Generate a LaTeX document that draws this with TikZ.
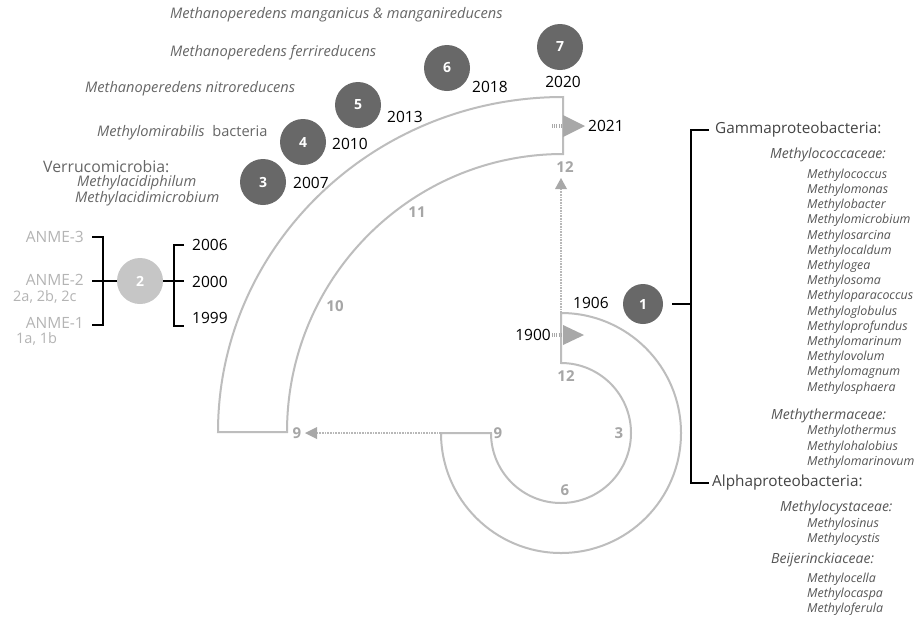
\documentclass[tikz,border=0pt]{standalone}
\usepackage{fontspec}
\setmainfont{Open Sans}
\definecolor{arcgray}{HTML}{BDBDBD}
\definecolor{dotgray}{HTML}{B8B8B8}
\definecolor{trigray}{HTML}{A8A8A8}
\definecolor{numgray}{HTML}{A6A6A6}
\definecolor{circdark}{HTML}{686868}
\definecolor{circlight}{HTML}{C6C6C6}
\definecolor{spgray}{HTML}{666666}
\definecolor{anmegray}{HTML}{B4B4B4}
\definecolor{gengray}{HTML}{555555}
\definecolor{hdgray}{HTML}{444444}
\tikzset{
  arcline/.style={draw=arcgray, line width=2pt, line join=miter},
  dotline/.style={draw=dotgray, line width=2.8pt, dash pattern=on 0.8pt off 0.8pt},
  hatch/.style={draw=trigray, line width=4pt, dash pattern=on 1pt off 1.2pt},
  tri/.style={fill=trigray, draw=none},
  darkc/.style={circle, fill=circdark, minimum size=46pt, inner sep=0pt, text=white,
    font=\bfseries\fontsize{14}{14}\selectfont},
  lightc/.style={darkc, fill=circlight},
  year/.style={inner sep=0pt, text=black, font=\fontsize{15.5}{16}\selectfont},
  clock/.style={inner sep=0pt, text=numgray, font=\bfseries\fontsize{15}{15}\selectfont},
  species/.style={inner sep=0pt, anchor=west, text=spgray, font=\itshape\fontsize{14.6}{15}\selectfont},
  genus/.style={inner sep=0pt, anchor=west, text=gengray, font=\itshape\fontsize{12.4}{13}\selectfont},
  family/.style={inner sep=0pt, anchor=west, text=gengray, font=\itshape\fontsize{14}{14}\selectfont},
  phylum/.style={inner sep=0pt, anchor=west, text=hdgray, font=\fontsize{15.3}{16}\selectfont},
  anme/.style={inner sep=0pt, anchor=east, text=anmegray, font=\fontsize{15.5}{16}\selectfont},
  anmesub/.style={inner sep=0pt, anchor=west, text=anmegray, font=\fontsize{14.5}{15}\selectfont},
  brk/.style={draw=black, line width=2pt}
}
\begin{document}
\begin{tikzpicture}[x=1pt,y=-1pt]
\useasboundingbox[fill=white] (0,0) rectangle (917,619);

% ---- big quarter band (9 -> 12) ----
\coordinate (bigOutL) at (218,432);
\coordinate (bigOutT) at (563,97);
\coordinate (bigInT) at (563,154);
\coordinate (bigInL) at (287,432);
\draw[arcline] (bigOutL) arc[start angle=180, end angle=270, x radius=345, y radius=335]
  -- (bigInT) arc[start angle=270, end angle=180, x radius=276, y radius=278] -- cycle;

% ---- small three-quarter band (12 -> 9) ----
\coordinate (smOutT) at (561,313);
\coordinate (smOutL) at (441,433);
\coordinate (smInL) at (491,433);
\coordinate (smInT) at (561,363);
\draw[arcline] (smOutT) arc[start angle=-90, end angle=180, radius=120]
  -- (smInL) arc[start angle=180, end angle=-90, radius=70] -- cycle;

% ---- dotted connectors ----
\coordinate (vtip) at (561,178);
\coordinate (vbase) at (561,189);
\draw[dotline] (smOutT) -- (vbase);
\fill[tri] (vtip) -- (555,189) -- (567,189) -- cycle;
\coordinate (htip) at (305,433);
\coordinate (hbase) at (317,433);
\draw[dotline] (smOutL) -- (hbase);
\fill[tri] (htip) -- (317,427) -- (317,439) -- cycle;

% ---- entry / exit arrows ----
\coordinate (inA) at (552,335);
\coordinate (inB) at (563,335);
\draw[hatch] (inA) -- (inB);
\fill[tri] (563,325) -- (584,335) -- (563,345) -- cycle;
\coordinate (outA) at (552,126);
\coordinate (outB) at (563,126);
\draw[hatch] (outA) -- (outB);
\fill[tri] (563,115) -- (585,126) -- (563,137) -- cycle;

% ---- clock numbers ----
\node[clock] (n12a) at (565,167) {12};
\node[clock] (n11) at (417,212) {11};
\node[clock] (n10) at (335,306) {10};
\node[clock] (n9a) at (297,433) {9};
\node[clock] (n9b) at (498,433) {9};
\node[clock] (n12b) at (566,376) {12};
\node[clock] (n3) at (619,433) {3};
\node[clock] (n6) at (565,490) {6};

% ---- circles ----
\node[darkc, minimum size=40pt] (c1) at (643,304) {1};
\node[lightc] (c2) at (140,281) {2};
\node[darkc] (c3) at (263,182) {3};
\node[darkc] (c4) at (303,142) {4};
\node[darkc] (c5) at (358,105) {5};
\node[darkc] (c6) at (447,68) {6};
\node[darkc] (c7) at (560,47) {7};

% ---- years ----
\node[year, anchor=west] (y2007) at (293,183) {2007};
\node[year, anchor=west] (y2010) at (332,144) {2010};
\node[year, anchor=west] (y2013) at (387,117) {2013};
\node[year, anchor=west] (y2018) at (472,87) {2018};
\node[year] (y2020) at (563,82) {2020};
\node[year, anchor=west] (y2021) at (588,126) {2021};
\node[year, anchor=west] (y1906) at (573,303) {1906};
\node[year, anchor=east] (y1900) at (551,335) {1900};
\node[year, anchor=west] (y2006) at (192,245) {2006};
\node[year, anchor=west] (y2000) at (192,282) {2000};
\node[year, anchor=west] (y1999) at (192,318) {1999};

% ---- species labels (top left) ----
\node[species] (s7) at (170,15) {Methanoperedens manganicus \& manganireducens};
\node[species] (s6) at (170,53) {Methanoperedens ferrireducens};
\node[species] (s5) at (85,89) {Methanoperedens nitroreducens};
\node[species] (s4) at (97,133) {Methylomirabilis\ \ \upshape bacteria};
\node[phylum, text=spgray, font=\fontsize{15.8}{16}\selectfont] (verr) at (43,167) {Verrucomicrobia:};
\node[species] (ma1) at (77,183) {Methylacidiphilum};
\node[species] (ma2) at (75,199) {Methylacidimicrobium};

% ---- ANME bracket ----
\node[anme] (a3) at (84,237) {ANME-3};
\node[anme] (a2) at (84,280) {ANME-2};
\node[anmesub] (a2s) at (13,297) {2a, 2b, 2c};
\node[anme] (a1) at (84,323) {ANME-1};
\node[anmesub] (a1s) at (16,339) {1a, 1b};
\coordinate (lbT) at (103,237);
\coordinate (lbB) at (103,325);
\coordinate (lbM) at (92,281);
\draw[brk] (92,237) -- (lbT) -- (lbB) -- (92,325);
\draw[brk] (lbM) -- (c2.west);
\coordinate (rbT) at (174,245);
\coordinate (rbB) at (174,326);
\coordinate (rbM) at (184,281);
\draw[brk] (184,245) -- (rbT) -- (rbB) -- (184,326);
\draw[brk] (c2.east) -- (rbM);

% ---- right bracket ----
\coordinate (bT) at (691,130);
\coordinate (bB) at (691,483);
\coordinate (bM) at (691,304);
\draw[brk] (709,130) -- (bT) -- (bB) -- (709,483);
\draw[brk, shorten <=9pt] (c1.east) -- (bM);

\node[phylum] (gamma) at (715,130) {Gammaproteobacteria:};
\node[family] (mcc) at (770,155) {Methylococcaceae:};
\foreach \nm [count=\i] in {Methylococcus, Methylomonas, Methylobacter, Methylomicrobium,
  Methylosarcina, Methylocaldum, Methylogea, Methylosoma, Methyloparacoccus,
  Methyloglobulus, Methyloprofundus, Methylomarinum, Methylovolum, Methylomagnum,
  Methylosphaera}
  \node[genus] (g\i) at (807,{175+15.2*(\i-1)}) {\nm};
\node[family] (mth) at (771,416) {Methythermaceae:};
\node[genus] (t1) at (807,431) {Methylothermus};
\node[genus] (t2) at (807,447) {Methylohalobius};
\node[genus] (t3) at (807,462) {Methylomarinovum};
\node[phylum] (alpha) at (712,483) {Alphaproteobacteria:};
\node[family] (mcy) at (780,508) {Methylocystaceae:};
\node[genus] (y1) at (807,524) {Methylosinus};
\node[genus] (y2) at (807,539) {Methylocystis};
\node[family] (bei) at (771,560) {Beijerinckiaceae:};
\node[genus] (b1) at (807,579) {Methylocella};
\node[genus] (b2) at (807,594) {Methylocaspa};
\node[genus] (b3) at (807,609) {Methyloferula};
\end{tikzpicture}
\end{document}
